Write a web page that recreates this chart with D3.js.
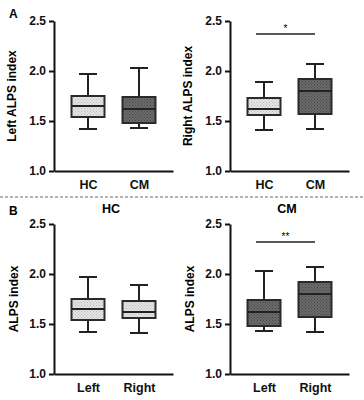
<!DOCTYPE html>
<html lang="en">
  <head>
    <meta charset="utf-8">
    <script src="https://cdn.jsdelivr.net/npm/d3@7"></script>
    <style>
      body { margin: 0; background: #fff; }
      text { font-family: "Liberation Sans", Arial, sans-serif; font-weight: bold; }
      .axis path, .axis line { stroke: #111; stroke-width: 2; }
      .axis text { font-size: 12px; fill: #111; }
      .box { stroke: #2a2a2a; stroke-width: 2; }
      .whisker { stroke: #222; stroke-width: 2; }
    </style>
  </head>
  <body>
    <script>
      // five-number summaries: [low, q1, median, q3, high]
      var leftHC  = [1.42, 1.54, 1.65, 1.75, 1.97];
      var leftCM  = [1.43, 1.48, 1.62, 1.74, 2.03];
      var rightHC = [1.41, 1.56, 1.62, 1.73, 1.89];
      var rightCM = [1.42, 1.57, 1.80, 1.92, 2.07];

      var groups = ["HC", "CM"];
      var sides = ["Left", "Right"];
      var yTicks = [1.0, 1.5, 2.0, 2.5];

      var w = 364, h = 400;
      var svg = d3.select("body").append("svg").attr("width", w).attr("height", h);

      var defs = svg.append("defs");
      function addPattern(id, bg, dot) {
        var p = defs.append("pattern").attr("id", id)
          .attr("patternUnits", "userSpaceOnUse").attr("width", 3).attr("height", 3);
        p.append("rect").attr("width", 3).attr("height", 3).attr("fill", bg);
        p.append("rect").attr("x", 0).attr("y", 0).attr("width", 1).attr("height", 1).attr("fill", dot);
        p.append("rect").attr("x", 1.5).attr("y", 1.5).attr("width", 1).attr("height", 1).attr("fill", dot);
      }
      addPattern("light", "#e6e6e6", "#b8b8b8");
      addPattern("dark", "#6c6c6c", "#454545");

      function panel(opt) {
        var g = svg.append("g").attr("transform", "translate(" + opt.dx + "," + opt.dy + ")");
        var y = d3.scaleLinear().domain([1.0, 2.5]).range([150, 0]);
        var x = d3.scalePoint().domain(opt.cats).range([0, 119]).padding(0.667);

        g.append("g").attr("class", "axis")
          .call(d3.axisLeft(y).tickValues(yTicks).tickFormat(d3.format(".1f")).tickSize(5).tickSizeOuter(0));
        var xa = g.append("g").attr("class", "axis")
          .attr("transform", "translate(0,150)")
          .call(d3.axisBottom(x).tickSize(0).tickSizeOuter(0));
        xa.selectAll("text").attr("dy", "1.2em").style("font-size", "12.5px");

        var bw = 33, cw = 18;
        opt.data.forEach(function (d, i) {
          var cx = x(opt.cats[i]);
          var fill = opt.fills[i];
          g.append("line").attr("class", "whisker")
            .attr("x1", cx).attr("x2", cx).attr("y1", y(d[0])).attr("y2", y(d[4]));
          g.append("line").attr("class", "whisker")
            .attr("x1", cx - cw / 2).attr("x2", cx + cw / 2).attr("y1", y(d[0])).attr("y2", y(d[0]));
          g.append("line").attr("class", "whisker")
            .attr("x1", cx - cw / 2).attr("x2", cx + cw / 2).attr("y1", y(d[4])).attr("y2", y(d[4]));
          g.append("rect").attr("class", "box")
            .attr("x", cx - bw / 2).attr("width", bw)
            .attr("y", y(d[3])).attr("height", y(d[1]) - y(d[3]))
            .attr("fill", "url(#" + fill + ")");
          g.append("line").attr("class", "whisker")
            .attr("x1", cx - bw / 2).attr("x2", cx + bw / 2).attr("y1", y(d[2])).attr("y2", y(d[2]));
        });

        g.append("text")
          .attr("transform", "translate(" + opt.labelX + ",75) rotate(-90)")
          .attr("text-anchor", "middle").style("font-size", "12px").text(opt.ylabel);

        if (opt.title) {
          g.append("text").attr("x", 57).attr("y", -11)
            .attr("text-anchor", "middle").style("font-size", "12.5px").text(opt.title);
        }
        if (opt.sig) {
          var sy = y(opt.sig.v);
          g.append("line").attr("x1", x(opt.cats[0]) - 8).attr("x2", x(opt.cats[1]))
            .attr("y1", sy).attr("y2", sy).attr("stroke", "#222").attr("stroke-width", 1.5);
          g.append("text").attr("x", (x(opt.cats[0]) - 8 + x(opt.cats[1])) / 2).attr("y", sy - 2)
            .attr("text-anchor", "middle").style("font-size", "10px").style("font-weight", "normal")
            .text(opt.sig.t);
        }
      }

      panel({dx: 54, dy: 21, cats: groups, data: [leftHC, leftCM], fills: ["light", "dark"],
             ylabel: "Left ALPS index", labelX: -38});
      panel({dx: 230, dy: 21, cats: groups, data: [rightHC, rightCM], fills: ["light", "dark"],
             ylabel: "Right ALPS index", labelX: -38, sig: {v: 2.37, t: "*"}});
      panel({dx: 54, dy: 224, cats: sides, data: [leftHC, rightHC], fills: ["light", "light"],
             ylabel: "ALPS index", labelX: -36, title: "HC"});
      panel({dx: 230, dy: 224, cats: sides, data: [leftCM, rightCM], fills: ["dark", "dark"],
             ylabel: "ALPS index", labelX: -36, title: "CM", sig: {v: 2.32, t: "**"}});

      // panel letters and separator
      svg.append("text").attr("x", 9).attr("y", 18).style("font-size", "12px").text("A");
      svg.append("text").attr("x", 9).attr("y", 215).style("font-size", "12px").text("B");
      svg.append("line").attr("x1", 0).attr("x2", w).attr("y1", 197).attr("y2", 197)
        .attr("stroke", "#666").attr("stroke-width", 1).attr("stroke-dasharray", "3,2");
    </script>
  </body>
</html>
